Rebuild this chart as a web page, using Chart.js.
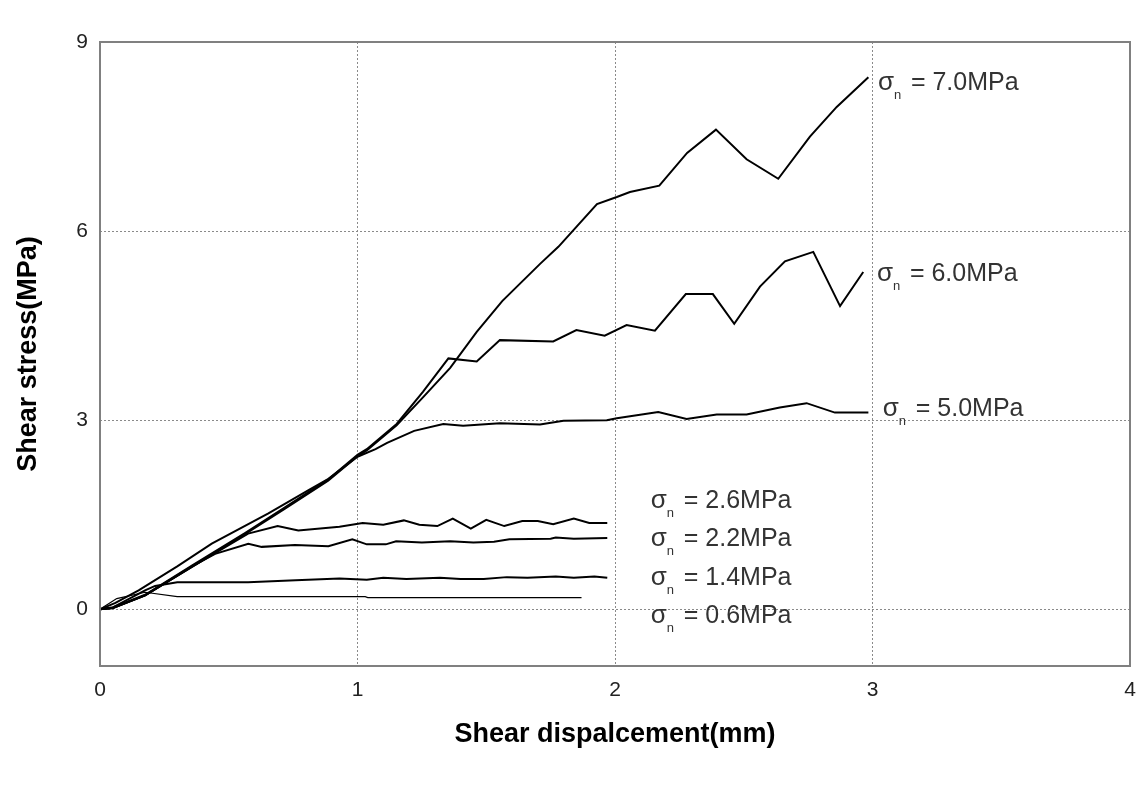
<!DOCTYPE html>
<html>
<head>
<meta charset="utf-8">
<script src="https://cdn.jsdelivr.net/npm/chart.js@4.4.0/dist/chart.umd.min.js"></script>
<style>
  html, body { margin: 0; padding: 0; background: #fff; }
  #wrap { width: 1140px; height: 793px; }
</style>
</head>
<body>
<div id="wrap"><canvas id="shearChart" width="1140" height="793"></canvas></div>
<script>
// tick labels
const xTicks = [0, 1, 2, 3, 4];
const yTicks = [0, 3, 6, 9];

// shear displacement (mm) / shear stress (MPa) per normal stress
const disp70 = [0, 0.05, 0.175, 0.36, 0.563, 0.72, 0.886, 1.0, 1.036, 1.152, 1.256, 1.36, 1.463, 1.562, 1.709, 1.78, 1.93, 2.007, 2.058, 2.172, 2.28, 2.392, 2.511, 2.634, 2.757, 2.861, 2.984];
const stress70 = [0, 0.02, 0.22, 0.68, 1.19, 1.6, 2.04, 2.43, 2.52, 2.92, 3.37, 3.83, 4.40, 4.89, 5.48, 5.75, 6.43, 6.54, 6.62, 6.72, 7.24, 7.61, 7.14, 6.83, 7.50, 7.97, 8.44];

const disp60 = [0, 0.05, 0.175, 0.36, 0.563, 0.72, 0.886, 1.0, 1.036, 1.152, 1.254, 1.353, 1.463, 1.553, 1.76, 1.85, 1.96, 2.045, 2.155, 2.275, 2.38, 2.463, 2.563, 2.66, 2.77, 2.874, 2.964];
const stress60 = [0, 0.03, 0.23, 0.70, 1.21, 1.62, 2.06, 2.45, 2.54, 2.94, 3.45, 3.98, 3.93, 4.27, 4.25, 4.43, 4.34, 4.51, 4.42, 5.0, 5.0, 4.53, 5.12, 5.52, 5.67, 4.81, 5.35];

const disp50 = [0, 0.06, 0.15, 0.30, 0.434, 0.654, 0.81, 0.887, 1.0, 1.07, 1.115, 1.22, 1.333, 1.41, 1.553, 1.709, 1.80, 1.968, 2.007, 2.168, 2.278, 2.395, 2.511, 2.64, 2.744, 2.854, 2.984];
const stress50 = [0, 0.10, 0.30, 0.68, 1.04, 1.52, 1.89, 2.07, 2.42, 2.54, 2.64, 2.83, 2.94, 2.91, 2.95, 2.93, 2.99, 3.0, 3.03, 3.13, 3.02, 3.09, 3.09, 3.20, 3.27, 3.12, 3.12];

const disp26 = [0, 0.05, 0.175, 0.36, 0.575, 0.69, 0.77, 0.93, 1.02, 1.10, 1.18, 1.24, 1.31, 1.37, 1.44, 1.50, 1.57, 1.64, 1.70, 1.76, 1.84, 1.90, 1.97];
const stress26 = [0, 0.02, 0.22, 0.68, 1.20, 1.32, 1.25, 1.31, 1.37, 1.34, 1.41, 1.34, 1.32, 1.44, 1.28, 1.42, 1.32, 1.40, 1.40, 1.35, 1.44, 1.37, 1.37];

const disp22 = [0, 0.05, 0.175, 0.36, 0.447, 0.576, 0.628, 0.757, 0.887, 0.98, 1.036, 1.11, 1.15, 1.25, 1.36, 1.45, 1.53, 1.59, 1.75, 1.77, 1.84, 1.97];
const stress22 = [0, 0.02, 0.22, 0.69, 0.88, 1.04, 0.99, 1.02, 1.0, 1.11, 1.03, 1.03, 1.08, 1.06, 1.08, 1.06, 1.07, 1.11, 1.12, 1.14, 1.12, 1.13];

const disp14 = [0, 0.05, 0.175, 0.214, 0.30, 0.575, 0.76, 0.93, 1.036, 1.10, 1.19, 1.32, 1.40, 1.49, 1.58, 1.66, 1.77, 1.84, 1.92, 1.97];
const stress14 = [0, 0.03, 0.30, 0.37, 0.43, 0.43, 0.46, 0.49, 0.47, 0.50, 0.48, 0.50, 0.48, 0.48, 0.51, 0.50, 0.52, 0.50, 0.52, 0.50];

const disp06 = [0, 0.065, 0.175, 0.30, 1.03, 1.04, 1.87];
const stress06 = [0, 0.17, 0.27, 0.20, 0.20, 0.185, 0.185];

const seriesNames = ['7.0', '6.0', '5.0', '2.6', '2.2', '1.4', '0.6'];
const seriesX = [disp70, disp60, disp50, disp26, disp22, disp14, disp06];
const seriesY = [stress70, stress60, stress50, stress26, stress22, stress14, stress06];

// where each σn label sits (data units: left of σ, text baseline)
const labelAt = [
  [3.021, 8.24], [3.017, 5.21], [3.040, 3.07],
  [2.139, 1.60], [2.139, 1.00], [2.139, 0.38], [2.139, -0.22]
];

const datasets = seriesNames.map((name, i) => ({
  label: 'σn = ' + name + 'MPa',
  data: seriesX[i].map((x, j) => ({ x: x, y: seriesY[i][j] })),
  borderColor: '#000',
  borderWidth: name === '0.6' ? 1.2 : 2,
  pointRadius: 0,
  tension: 0,
  fill: false
}));

const framePlugin = {
  id: 'frame',
  afterDraw(chart) {
    const { ctx, chartArea: a } = chart;
    ctx.save();
    ctx.strokeStyle = '#808080';
    ctx.lineWidth = 2;
    ctx.strokeRect(a.left, a.top, a.right - a.left, a.bottom - a.top);
    ctx.restore();
  }
};

const labelPlugin = {
  id: 'sigmaLabels',
  afterDatasetsDraw(chart) {
    const { ctx, scales } = chart;
    ctx.save();
    ctx.fillStyle = '#333';
    ctx.textBaseline = 'alphabetic';
    ctx.textAlign = 'left';
    seriesNames.forEach((name, i) => {
      const px = scales.x.getPixelForValue(labelAt[i][0]);
      const py = scales.y.getPixelForValue(labelAt[i][1]);
      ctx.font = '26px "Liberation Sans", Arial, sans-serif';
      ctx.fillText('σ', px, py);
      ctx.font = '13px "Liberation Sans", Arial, sans-serif';
      ctx.fillText('n', px + 16, py + 9);
      ctx.font = '25px "Liberation Sans", Arial, sans-serif';
      ctx.fillText('= ' + name + 'MPa', px + 33, py);
    });
    ctx.restore();
  }
};

const ctx = document.getElementById('shearChart');
new Chart(ctx, {
  type: 'line',
  data: { datasets: datasets },
  options: {
    responsive: false,
    animation: false,
    devicePixelRatio: 1,
    layout: { padding: { top: 42, right: 10, left: 0, bottom: 0 } },
    plugins: {
      legend: { display: false },
      tooltip: { enabled: false }
    },
    scales: {
      x: {
        type: 'linear',
        min: 0,
        max: 4,
        afterBuildTicks: (scale) => { scale.ticks = xTicks.map(v => ({ value: v })); },
        afterFit: (scale) => {
          scale.height = 127;
          scale.paddingLeft = 0;
          scale.paddingRight = 0;
        },
        grid: {
          drawTicks: false,
          color: (c) => (c.tick && (c.tick.value === 0 || c.tick.value === 4)) ? 'rgba(0,0,0,0)' : '#8a8a8a',
          lineWidth: 1
        },
        border: { display: false, dash: [2, 2] },
        ticks: {
          padding: 12,
          color: '#222',
          font: { family: '"Liberation Sans", Arial, sans-serif', size: 21 }
        },
        title: {
          display: true,
          text: 'Shear dispalcement(mm)',
          color: '#000',
          font: { family: '"Liberation Sans", Arial, sans-serif', size: 27, weight: 'bold' },
          padding: { top: 0, bottom: 42 }
        }
      },
      y: {
        type: 'linear',
        min: -0.9,
        max: 9,
        afterBuildTicks: (scale) => { scale.ticks = yTicks.map(v => ({ value: v })); },
        afterFit: (scale) => { scale.width = 100; },
        grid: {
          drawTicks: false,
          color: (c) => (c.tick && c.tick.value === 9) ? 'rgba(0,0,0,0)' : '#8a8a8a',
          lineWidth: 1
        },
        border: { display: false, dash: [2, 2] },
        ticks: {
          padding: 12,
          color: '#222',
          font: { family: '"Liberation Sans", Arial, sans-serif', size: 21 }
        },
        title: {
          display: true,
          text: 'Shear stress(MPa)',
          color: '#000',
          font: { family: '"Liberation Sans", Arial, sans-serif', size: 27, weight: 'bold' },
          padding: { top: 12, bottom: 0 }
        }
      }
    }
  },
  plugins: [framePlugin, labelPlugin]
});
</script>
</body>
</html>
